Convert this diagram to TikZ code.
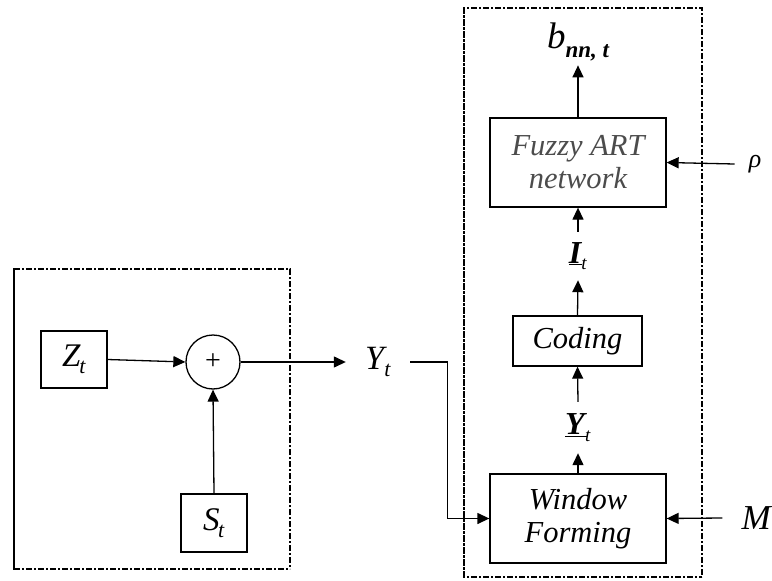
\documentclass[tikz,border=0pt]{standalone}
\usepackage{fontspec}
\setmainfont{Liberation Serif}
\usetikzlibrary{arrows.meta}
\newcommand{\vsub}[3][-1.5pt]{\textit{#2}\kern#1\raisebox{-0.45ex}{\fontsize{22}{22}\selectfont\textit{#3}}}
\begin{document}
\begin{tikzpicture}[x=1pt,y=-1pt,
  blk/.style={draw,line width=1.3pt,inner sep=0pt,align=center,font=\fontsize{30.5}{33}\selectfont\itshape},
  lbl/.style={inner sep=0pt,font=\fontsize{34}{35}\selectfont},
  arr/.style={line width=1.3pt,-{Triangle[length=12pt,width=11pt]}},
  dthin/.style={line width=1.3pt,dash pattern=on 6pt off 2pt on 2pt off 2pt},
  dthick/.style={line width=2.8pt,dash pattern=on 6pt off 2pt on 2pt off 2pt}]
\useasboundingbox (0,0) rectangle (772,581);
% dashed frames
\draw[dthin] (14,569) -- (14,269) -- (290,269) -- (290,569);
\draw[dthick] (14,269) -- (14,569) -- (290,569);
\draw[dthin] (464,577) -- (464,8) -- (702,8) -- (702,577);
\draw[dthick] (464,8) -- (464,577) -- (702,577);
% nodes
\node[blk,minimum width=66pt,minimum height=57pt,font=\fontsize{33}{33}\selectfont] (Z) at (74,359.5) {\vsub{Z}{t}};
\node[draw,line width=1.3pt,circle,minimum size=54pt,inner sep=0pt,font=\fontsize{28}{28}\selectfont] (sum) at (213,362) {+};
\node[blk,minimum width=66pt,minimum height=58pt,font=\fontsize{33}{33}\selectfont] (S) at (214,523) {\vsub{S}{t}};
\node[lbl,inner xsep=19pt] (Y) at (378,362) {\vsub[-2.5pt]{Y}{t}};
\node[blk,minimum width=176pt,minimum height=89pt,text=black!70] (FA) at (578,162.5) {Fuzzy ART\\network};
\node[inner sep=0pt,font=\fontsize{37}{37}\selectfont] (b) at (578,42) {\textit{b}\raisebox{-0.55ex}{\fontsize{23}{23}\selectfont\bfseries\itshape nn, t}};
\node[inner sep=0pt,inner xsep=14pt,font=\fontsize{26}{26}\selectfont\itshape] (rho) at (755,164) {ρ};
\node[inner sep=0pt,minimum height=48pt,font=\fontsize{32}{32}\selectfont] (I) at (578,256) {\underline{\textbf{\textit{I}}}\kern-1pt\raisebox{-0.45ex}{\fontsize{19}{19}\selectfont\textit{t}}};
\node[blk,minimum width=129pt,minimum height=50pt] (C) at (577.5,341) {Coding};
\node[inner sep=0pt,minimum height=51pt,font=\fontsize{32}{32}\selectfont] (Yb) at (578,427.5) {\underline{\textbf{\textit{Y}}}\kern-2pt\raisebox{-0.45ex}{\fontsize{19}{19}\selectfont\textit{t}}};
\node[blk,minimum width=176pt,minimum height=89pt] (WF) at (578,518.5) {Window\\Forming};
\node[lbl,inner xsep=19pt,font=\fontsize{35}{35}\selectfont] (M) at (757,518) {\textit{M}};
% connectors
\draw[arr] (Z.east) -- (sum.west);
\draw[arr] (S.north) -- (sum.south);
\draw[arr] (sum.east) -- (Y.west);
\draw[arr] (Y.east) -- ++(37,0) |- (WF.west);
\draw[arr] (M.west) -- (WF.east);
\draw[arr] (WF.north) -- (Yb.south);
\draw[arr] (Yb.north) -- (C.south);
\draw[arr] (C.north) -- (I.south);
\draw[arr] (I.north) -- (FA.south);
\draw[arr] (rho.west) -- (FA.east);
\draw[arr] (FA.north) -- ++(0,-52);
\end{tikzpicture}
\end{document}
